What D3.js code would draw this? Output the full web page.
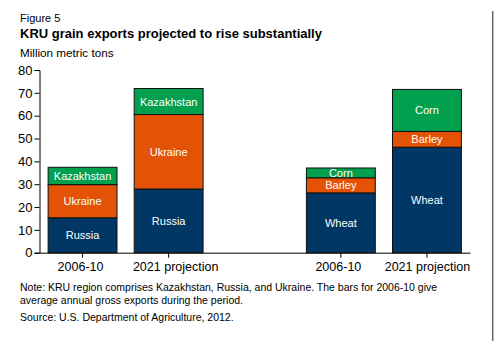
<!DOCTYPE html>
<html><head><meta charset="utf-8">
<script src="https://cdn.jsdelivr.net/npm/d3@7"></script>
<style>body{margin:0;background:#fff}svg{font-family:"Liberation Sans",Arial,sans-serif}</style>
</head><body><svg id="c" width="500" height="341"></svg>
<script>
const categories = ["2006-10 ", "2021 projection ", "gap", "2006-10", "2021 projection"];
const tickLabels = ["2006-10", "2021 projection", "", "2006-10", "2021 projection"];
const countrySeries = ["Russia", "Ukraine", "Kazakhstan"];
const russia = [15.3, 27.9];
const ukraine = [14.5, 32.6];
const kazakhstan = [7.6, 11.4];
const grainSeries = ["Wheat", "Barley", "Corn"];
const wheat = [26.2, 46.2];
const barley = [6.6, 6.9];
const corn = [4.3, 18.4];
const yTicks = [0, 10, 20, 30, 40, 50, 60, 70, 80];
const colors = ["#003764", "#E35205", "#00A04F"];
const labelShift = [-2, 7, 0, -2.5, 0.5];

const svg = d3.select("#c");
svg.append("text").attr("x", 20).attr("y", 21.5).attr("font-size", 11).text("Figure 5");
svg.append("text").attr("x", 20).attr("y", 37.5).attr("font-size", 13).attr("font-weight", "bold").text("KRU grain exports projected to rise substantially");
svg.append("text").attr("x", 20).attr("y", 57).attr("font-size", 11.7).text("Million metric tons");

const x = d3.scaleBand().domain(categories).range([39.5, 470]).paddingInner(0.2).paddingOuter(0.1);
const y = d3.scaleLinear().domain([0, 80]).range([252.7, 70]);

const stacks = [
  {cat: categories[0], names: countrySeries, vals: [russia[0], ukraine[0], kazakhstan[0]]},
  {cat: categories[1], names: countrySeries, vals: [russia[1], ukraine[1], kazakhstan[1]]},
  {cat: categories[3], names: grainSeries, vals: [wheat[0], barley[0], corn[0]]},
  {cat: categories[4], names: grainSeries, vals: [wheat[1], barley[1], corn[1]]}
];
stacks.forEach(s => {
  let base = 0;
  s.vals.forEach((v, i) => {
    const y0 = y(base), y1 = y(base + v);
    svg.append("rect").attr("x", x(s.cat)).attr("width", x.bandwidth())
      .attr("y", y1).attr("height", y0 - y1)
      .attr("fill", colors[i]).attr("stroke", "#111").attr("stroke-width", 1);
    svg.append("text").attr("x", x(s.cat) + x.bandwidth() / 2).attr("y", (y0 + y1) / 2 + 4)
      .attr("text-anchor", "middle").attr("font-size", 11).attr("fill", "#fff").text(s.names[i]);
    base += v;
  });
});

const ya = svg.append("g").attr("transform", "translate(39.5,0)")
  .call(d3.axisLeft(y).tickValues(yTicks).tickSize(5).tickPadding(2));
ya.selectAll("text").attr("font-size", 13).attr("fill", "#000").style("font-family", "inherit");
ya.selectAll("line,path").attr("stroke", "#000");

const xa = svg.append("g").attr("transform", "translate(0,252.7)")
  .call(d3.axisBottom(x).tickSize(5).tickSizeOuter(0).tickPadding(4).tickFormat((d, i) => tickLabels[i]));
xa.selectAll(".tick").filter(d => d === "gap").select("line").remove();
xa.selectAll(".tick text").attr("dx", (d, i) => labelShift[i]);
xa.selectAll("text").attr("font-size", 12.5).attr("fill", "#000").style("font-family", "inherit");
xa.selectAll("line,path").attr("stroke", "#000");

svg.append("line").attr("x1", 492.7).attr("x2", 492.7).attr("y1", 11).attr("y2", 341).attr("stroke", "#666").attr("stroke-width", 1.5);

const note = ["Note:  KRU region comprises Kazakhstan, Russia, and Ukraine. The bars for 2006-10 give",
  "average annual gross exports during the period."];
note.forEach((t, i) => svg.append("text").attr("x", 20).attr("y", 291 + i * 13).attr("font-size", 10.5).text(t));
svg.append("text").attr("x", 20).attr("y", 320.5).attr("font-size", 10.5).text("Source: U.S. Department of Agriculture, 2012.");
</script></body></html>
